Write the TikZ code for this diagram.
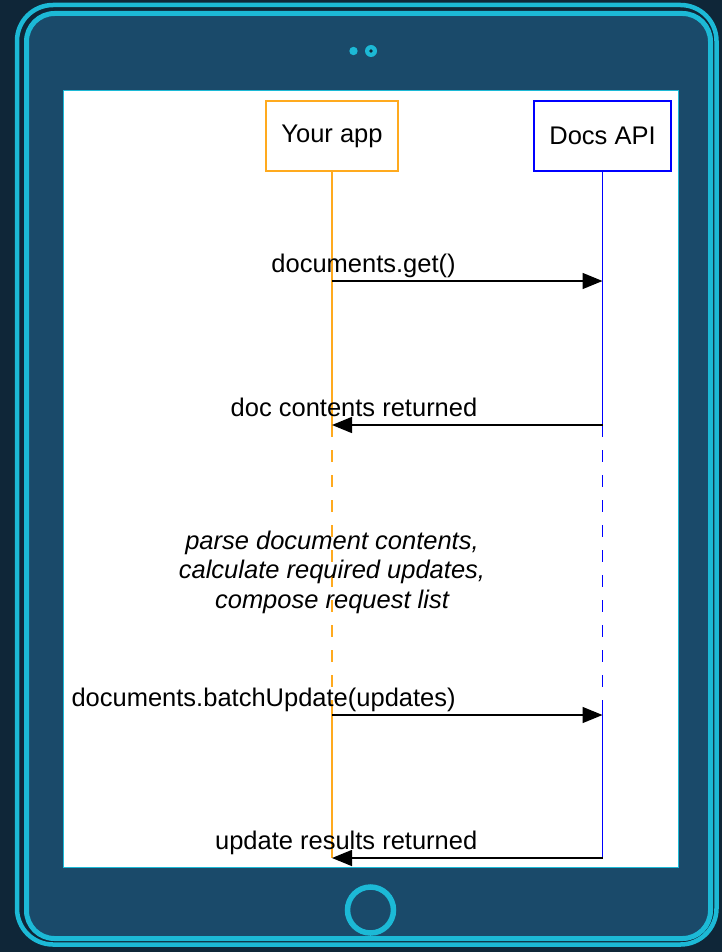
\documentclass[tikz,border=0pt]{standalone}
\usepackage{fontspec}
\setmainfont{Liberation Sans}
\usepackage{xcolor}
\usetikzlibrary{arrows.meta}
\definecolor{padbg}{HTML}{0F2638}
\definecolor{padfill}{HTML}{1A4A6A}
\definecolor{padline}{HTML}{1CB9D6}
\definecolor{appline}{HTML}{FFAA1E}
\definecolor{apiline}{HTML}{0000FF}
\tikzset{
  actor/.style={draw,line width=1.5pt,minimum height=70pt,inner sep=0pt,font=\fontsize{25.5}{30}\selectfont},
  life/.style={line width=1.7pt},
  gap/.style={life,dash pattern=on 12pt off 13pt,dash phase=12pt},
  msg/.style={line width=1.5pt,-{Triangle[length=20pt,width=16pt]}},
  lbl/.style={inner sep=0pt,anchor=base east,pos=.46,yshift=8.5pt,font=\fontsize{25.5}{30}\selectfont}
}
\begin{document}
\begin{tikzpicture}[x=1pt,y=-1pt]
  \useasboundingbox[fill=padbg] (0,0) rectangle (722,952);
  \draw[padline,line width=4.5pt,rounded corners=36pt] (17,5) rectangle (716.5,944.5);
  \draw[padline,fill=padfill,line width=5pt,rounded corners=28pt] (26.5,13.5) rectangle (710.5,938.5);
  \fill[padline] (353.5,51) circle[radius=4.2] (371,51) circle[radius=6]; \fill[padbg] (371,51) circle[radius=1.8];
  \draw[padline,line width=5.5pt] (370.5,910) circle[radius=23];
  \draw[padline,fill=white,line width=1pt] (63.5,90.5) rectangle (678,867);
  \node[actor,draw=appline,minimum width=132pt] (app) at (332,136) {Your app};
  \node[actor,draw=apiline,minimum width=137pt] (api) at (602.5,136) {Docs API};
  \foreach \n/\y in {g/281, r/425, s/437, e/708, b/715, u/858} {
    \coordinate (app\n) at (app |- 0,\y); \coordinate (api\n) at (api |- 0,\y);
  }
  \draw[life,appline] (app.south) -- (apps); \draw[gap,appline] (apps) -- (appe); \draw[life,appline] (appe) -- (appu);
  \draw[life,apiline] (api.south) -- (apis); \draw[gap,apiline] (apis) -- (apie); \draw[life,apiline] (apie) -- (apiu);
  \draw[msg] (appg) -- (apig) node[lbl] {documents.get()};
  \draw[msg] (apir) -- (appr) node[lbl] {doc contents returned};
  \node[align=center,inner sep=0pt,font=\fontsize{25.5}{29.5}\selectfont\itshape] (work) at (app |- 0,572)
    {parse document contents,\\calculate required updates,\\compose request list};
  \draw[msg] (appb) -- (apib) node[lbl] {documents.batchUpdate(updates)};
  \draw[msg] (apiu) -- (appu) node[lbl] {update results returned};
\end{tikzpicture}
\end{document}
